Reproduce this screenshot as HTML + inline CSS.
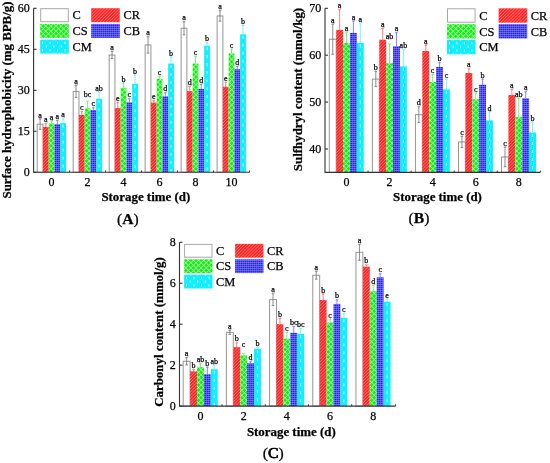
<!DOCTYPE html>
<html><head><meta charset="utf-8"><style>
html,body{margin:0;padding:0;background:#fff;width:550px;height:463px;overflow:hidden}
svg{display:block;will-change:transform}
text{font-family:"Liberation Serif", serif;fill:#000;stroke:#000;stroke-width:0.25px}
</style></head><body>
<svg width="550" height="463" viewBox="0 0 550 463">
<defs>
<pattern id="pR" patternUnits="userSpaceOnUse" width="2.2" height="2.2" patternTransform="rotate(45)"><rect width="2.2" height="2.2" fill="#ff2424"/><rect width="0.55" height="2.2" fill="#ff8c8c"/></pattern>
<pattern id="pS" patternUnits="userSpaceOnUse" width="3.6" height="3.6" patternTransform="rotate(45)"><rect width="3.6" height="3.6" fill="#14ec14"/><rect width="0.7" height="3.6" fill="#b8ffb8"/><rect width="3.6" height="0.7" fill="#b8ffb8"/></pattern>
<pattern id="pB" patternUnits="userSpaceOnUse" width="2" height="2"><rect width="2" height="2" fill="#1e1eff"/><rect width="0.4" height="2" fill="#9090ff"/><rect width="2" height="0.5" fill="#9a9aff"/></pattern>
</defs>
<line x1="33.6" y1="172.3" x2="36.6" y2="172.3" stroke="#333" stroke-width="1.1"/><text x="29.8" y="176.4" font-size="12.0" text-anchor="end">0</text><line x1="33.6" y1="131.3" x2="36.6" y2="131.3" stroke="#333" stroke-width="1.1"/><text x="29.8" y="135.4" font-size="12.0" text-anchor="end">15</text><line x1="33.6" y1="90.3" x2="36.6" y2="90.3" stroke="#333" stroke-width="1.1"/><text x="29.8" y="94.4" font-size="12.0" text-anchor="end">30</text><line x1="33.6" y1="49.3" x2="36.6" y2="49.3" stroke="#333" stroke-width="1.1"/><text x="29.8" y="53.4" font-size="12.0" text-anchor="end">45</text><line x1="33.6" y1="8.3" x2="36.6" y2="8.3" stroke="#333" stroke-width="1.1"/><text x="29.8" y="12.4" font-size="12.0" text-anchor="end">60</text><line x1="51.59" y1="172.3" x2="51.59" y2="169.3" stroke="#333" stroke-width="1"/><line x1="69.58" y1="172.3" x2="69.58" y2="170.5" stroke="#333" stroke-width="1"/><line x1="87.58" y1="172.3" x2="87.58" y2="169.3" stroke="#333" stroke-width="1"/><line x1="105.57" y1="172.3" x2="105.57" y2="170.5" stroke="#333" stroke-width="1"/><line x1="123.56" y1="172.3" x2="123.56" y2="169.3" stroke="#333" stroke-width="1"/><line x1="141.55" y1="172.3" x2="141.55" y2="170.5" stroke="#333" stroke-width="1"/><line x1="159.54" y1="172.3" x2="159.54" y2="169.3" stroke="#333" stroke-width="1"/><line x1="177.53" y1="172.3" x2="177.53" y2="170.5" stroke="#333" stroke-width="1"/><line x1="195.53" y1="172.3" x2="195.53" y2="169.3" stroke="#333" stroke-width="1"/><line x1="213.52" y1="172.3" x2="213.52" y2="170.5" stroke="#333" stroke-width="1"/><line x1="231.51" y1="172.3" x2="231.51" y2="169.3" stroke="#333" stroke-width="1"/><line x1="249.5" y1="172.3" x2="249.5" y2="170.5" stroke="#333" stroke-width="1"/><rect x="37.2" y="124.19" width="5.76" height="48.11" fill="#fff" stroke="#959595" stroke-width="1"/><path d="M40.08 119V129.39M38.78 119H41.38M38.78 129.39H41.38" stroke="#707070" stroke-width="0.8" fill="none"/><text x="40.08" y="117.6" font-size="8.0" text-anchor="middle">a</text><rect x="42.96" y="126.93" width="5.76" height="45.37" fill="url(#pR)"/><path d="M45.83 123.65V126.93M44.53 123.65H47.13" stroke="#ff6060" stroke-width="0.8" fill="none"/><text x="45.83" y="122.25" font-size="8.0" text-anchor="middle">a</text><rect x="48.71" y="123.37" width="5.76" height="48.93" fill="url(#pS)"/><path d="M51.59 120.91V123.37M50.29 120.91H52.89" stroke="#55ee55" stroke-width="0.8" fill="none"/><text x="51.59" y="119.51" font-size="8.0" text-anchor="middle">a</text><rect x="54.47" y="124.19" width="5.76" height="48.11" fill="url(#pB)"/><path d="M57.35 120.64V124.19M56.05 120.64H58.65" stroke="#6666ff" stroke-width="0.8" fill="none"/><text x="57.35" y="119.24" font-size="8.0" text-anchor="middle">a</text><rect x="60.23" y="123.1" width="5.76" height="49.2" fill="#11eeff"/><line x1="63.11" y1="124.6" x2="63.11" y2="172.3" stroke="#f0ffff" stroke-width="0.85" stroke-dasharray="3 5"/><path d="M63.11 118.73V123.1M61.81 118.73H64.41" stroke="#55eeff" stroke-width="0.8" fill="none"/><text x="63.11" y="117.33" font-size="8.0" text-anchor="middle">a</text><rect x="73.18" y="91.39" width="5.76" height="80.91" fill="#fff" stroke="#959595" stroke-width="1"/><path d="M76.06 85.38V97.41M74.76 85.38H77.36M74.76 97.41H77.36" stroke="#707070" stroke-width="0.8" fill="none"/><text x="76.06" y="83.98" font-size="8.0" text-anchor="middle">a</text><rect x="78.94" y="114.9" width="5.76" height="57.4" fill="url(#pR)"/><path d="M81.82 111.62V114.9M80.52 111.62H83.12" stroke="#ff6060" stroke-width="0.8" fill="none"/><text x="81.82" y="110.22" font-size="8.0" text-anchor="middle">c</text><rect x="84.7" y="108.34" width="5.76" height="63.96" fill="url(#pS)"/><path d="M87.58 101.23V108.34M86.28 101.23H88.88" stroke="#55ee55" stroke-width="0.8" fill="none"/><text x="87.58" y="96.83" font-size="8.0" text-anchor="middle">bc</text><rect x="90.45" y="109.98" width="5.76" height="62.32" fill="url(#pB)"/><path d="M93.33 107.79V109.98M92.03 107.79H94.63" stroke="#6666ff" stroke-width="0.8" fill="none"/><text x="93.33" y="106.39" font-size="8.0" text-anchor="middle">c</text><rect x="96.21" y="98.77" width="5.76" height="73.53" fill="#11eeff"/><line x1="99.09" y1="100.27" x2="99.09" y2="172.3" stroke="#f0ffff" stroke-width="0.85" stroke-dasharray="3 5"/><path d="M99.09 92.49V98.77M97.79 92.49H100.39" stroke="#55eeff" stroke-width="0.8" fill="none"/><text x="99.09" y="91.09" font-size="8.0" text-anchor="middle">ab</text><rect x="109.17" y="55.04" width="5.76" height="117.26" fill="#fff" stroke="#959595" stroke-width="1"/><path d="M112.04 51.49V58.59M110.74 51.49H113.34M110.74 58.59H113.34" stroke="#707070" stroke-width="0.8" fill="none"/><text x="112.04" y="50.09" font-size="8.0" text-anchor="middle">a</text><rect x="114.92" y="108.07" width="5.76" height="64.23" fill="url(#pR)"/><path d="M117.8 102.6V108.07M116.5 102.6H119.1" stroke="#ff6060" stroke-width="0.8" fill="none"/><text x="117.8" y="101.2" font-size="8.0" text-anchor="middle">e</text><rect x="120.68" y="87.84" width="5.76" height="84.46" fill="url(#pS)"/><path d="M123.56 82.92V87.84M122.26 82.92H124.86" stroke="#55ee55" stroke-width="0.8" fill="none"/><text x="123.56" y="81.52" font-size="8.0" text-anchor="middle">b</text><rect x="126.44" y="102.33" width="5.76" height="69.97" fill="url(#pB)"/><path d="M129.32 98.77V102.33M128.02 98.77H130.62" stroke="#6666ff" stroke-width="0.8" fill="none"/><text x="129.32" y="97.37" font-size="8.0" text-anchor="middle">c</text><rect x="132.19" y="83.74" width="5.76" height="88.56" fill="#11eeff"/><line x1="135.07" y1="85.24" x2="135.07" y2="172.3" stroke="#f0ffff" stroke-width="0.85" stroke-dasharray="3 5"/><path d="M135.07 75.27V83.74M133.77 75.27H136.37" stroke="#55eeff" stroke-width="0.8" fill="none"/><text x="135.07" y="73.87" font-size="8.0" text-anchor="middle">b</text><rect x="145.15" y="44.93" width="5.76" height="127.37" fill="#fff" stroke="#959595" stroke-width="1"/><path d="M148.03 36.73V53.13M146.73 36.73H149.33M146.73 53.13H149.33" stroke="#707070" stroke-width="0.8" fill="none"/><text x="148.03" y="35.33" font-size="8.0" text-anchor="middle">a</text><rect x="150.91" y="102.6" width="5.76" height="69.7" fill="url(#pR)"/><path d="M153.78 100.55V102.6M152.48 100.55H155.08" stroke="#ff6060" stroke-width="0.8" fill="none"/><text x="153.78" y="99.15" font-size="8.0" text-anchor="middle">e</text><rect x="156.66" y="78.82" width="5.76" height="93.48" fill="url(#pS)"/><path d="M159.54 76.09V78.82M158.24 76.09H160.84" stroke="#55ee55" stroke-width="0.8" fill="none"/><text x="159.54" y="74.69" font-size="8.0" text-anchor="middle">c</text><rect x="162.42" y="96.31" width="5.76" height="75.99" fill="url(#pB)"/><path d="M165.3 92.76V96.31M164 92.76H166.6" stroke="#6666ff" stroke-width="0.8" fill="none"/><text x="165.3" y="91.36" font-size="8.0" text-anchor="middle">d</text><rect x="168.18" y="63.51" width="5.76" height="108.79" fill="#11eeff"/><line x1="171.06" y1="65.01" x2="171.06" y2="172.3" stroke="#f0ffff" stroke-width="0.85" stroke-dasharray="3 5"/><path d="M171.06 57.23V63.51M169.76 57.23H172.36" stroke="#55eeff" stroke-width="0.8" fill="none"/><text x="171.06" y="55.83" font-size="8.0" text-anchor="middle">b</text><rect x="181.13" y="28.25" width="5.76" height="144.05" fill="#fff" stroke="#959595" stroke-width="1"/><path d="M184.01 21.69V34.81M182.71 21.69H185.31M182.71 34.81H185.31" stroke="#707070" stroke-width="0.8" fill="none"/><text x="184.01" y="20.29" font-size="8.0" text-anchor="middle">a</text><rect x="186.89" y="91.12" width="5.76" height="81.18" fill="url(#pR)"/><path d="M189.77 86.47V91.12M188.47 86.47H191.07" stroke="#ff6060" stroke-width="0.8" fill="none"/><text x="189.77" y="85.07" font-size="8.0" text-anchor="middle">d</text><rect x="192.65" y="63.51" width="5.76" height="108.79" fill="url(#pS)"/><path d="M195.53 56.68V63.51M194.22 56.68H196.83" stroke="#55ee55" stroke-width="0.8" fill="none"/><text x="195.53" y="55.28" font-size="8.0" text-anchor="middle">c</text><rect x="198.4" y="88.93" width="5.76" height="83.37" fill="url(#pB)"/><path d="M201.28 84.56V88.93M199.98 84.56H202.58" stroke="#6666ff" stroke-width="0.8" fill="none"/><text x="201.28" y="83.16" font-size="8.0" text-anchor="middle">d</text><rect x="204.16" y="45.75" width="5.76" height="126.55" fill="#11eeff"/><line x1="207.04" y1="47.25" x2="207.04" y2="172.3" stroke="#f0ffff" stroke-width="0.85" stroke-dasharray="3 5"/><path d="M207.04 42.74V45.75M205.74 42.74H208.34" stroke="#55eeff" stroke-width="0.8" fill="none"/><text x="207.04" y="41.34" font-size="8.0" text-anchor="middle">b</text><rect x="217.12" y="15.95" width="5.76" height="156.35" fill="#fff" stroke="#959595" stroke-width="1"/><path d="M219.99 10.76V21.15M218.69 10.76H221.29M218.69 21.15H221.29" stroke="#707070" stroke-width="0.8" fill="none"/><text x="219.99" y="9.36" font-size="8.0" text-anchor="middle">a</text><rect x="222.87" y="86.75" width="5.76" height="85.55" fill="url(#pR)"/><path d="M225.75 82.37V86.75M224.45 82.37H227.05" stroke="#ff6060" stroke-width="0.8" fill="none"/><text x="225.75" y="80.97" font-size="8.0" text-anchor="middle">e</text><rect x="228.63" y="53.4" width="5.76" height="118.9" fill="url(#pS)"/><path d="M231.51 49.3V53.4M230.21 49.3H232.81" stroke="#55ee55" stroke-width="0.8" fill="none"/><text x="231.51" y="47.9" font-size="8.0" text-anchor="middle">c</text><rect x="234.39" y="69.25" width="5.76" height="103.05" fill="url(#pB)"/><path d="M237.27 66.52V69.25M235.97 66.52H238.57" stroke="#6666ff" stroke-width="0.8" fill="none"/><text x="237.27" y="65.12" font-size="8.0" text-anchor="middle">d</text><rect x="240.14" y="34.27" width="5.76" height="138.03" fill="#11eeff"/><line x1="243.02" y1="35.77" x2="243.02" y2="172.3" stroke="#f0ffff" stroke-width="0.85" stroke-dasharray="3 5"/><path d="M243.02 25.52V34.27M241.72 25.52H244.32" stroke="#55eeff" stroke-width="0.8" fill="none"/><text x="243.02" y="24.12" font-size="8.0" text-anchor="middle">b</text><path d="M33.6 8.3V172.3H249.5" stroke="#333" stroke-width="1.1" fill="none"/><text x="51.59" y="185.8" font-size="12.0" text-anchor="middle">0</text><text x="87.58" y="185.8" font-size="12.0" text-anchor="middle">2</text><text x="123.56" y="185.8" font-size="12.0" text-anchor="middle">4</text><text x="159.54" y="185.8" font-size="12.0" text-anchor="middle">6</text><text x="195.53" y="185.8" font-size="12.0" text-anchor="middle">8</text><text x="231.51" y="185.8" font-size="12.0" text-anchor="middle">10</text><rect x="40.7" y="8.7" width="27.6" height="13" fill="#fff" stroke="#a8a8a8" stroke-width="1"/><text x="72.4" y="19.4" font-size="12.4">C</text><rect x="91.2" y="8.2" width="28.6" height="14" fill="url(#pR)"/><text x="123.4" y="19.4" font-size="12.4">CR</text><rect x="40.2" y="23.9" width="28.6" height="14" fill="url(#pS)"/><text x="72.4" y="35.1" font-size="12.4">CS</text><rect x="91.2" y="23.9" width="28.6" height="14" fill="url(#pB)"/><text x="123.4" y="35.1" font-size="12.4">CB</text><rect x="40.2" y="39.6" width="28.6" height="14" fill="#11eeff"/><line x1="42.6" y1="39.6" x2="42.6" y2="53.6" stroke="#e8ffff" stroke-width="0.9" stroke-dasharray="2.5 4.9" stroke-dashoffset="-2"/><line x1="46.35" y1="39.6" x2="46.35" y2="53.6" stroke="#e8ffff" stroke-width="0.9" stroke-dasharray="2.5 4.9" stroke-dashoffset="1.7"/><line x1="50.1" y1="39.6" x2="50.1" y2="53.6" stroke="#e8ffff" stroke-width="0.9" stroke-dasharray="2.5 4.9" stroke-dashoffset="-2"/><line x1="53.85" y1="39.6" x2="53.85" y2="53.6" stroke="#e8ffff" stroke-width="0.9" stroke-dasharray="2.5 4.9" stroke-dashoffset="1.7"/><line x1="57.6" y1="39.6" x2="57.6" y2="53.6" stroke="#e8ffff" stroke-width="0.9" stroke-dasharray="2.5 4.9" stroke-dashoffset="-2"/><line x1="61.35" y1="39.6" x2="61.35" y2="53.6" stroke="#e8ffff" stroke-width="0.9" stroke-dasharray="2.5 4.9" stroke-dashoffset="1.7"/><line x1="65.1" y1="39.6" x2="65.1" y2="53.6" stroke="#e8ffff" stroke-width="0.9" stroke-dasharray="2.5 4.9" stroke-dashoffset="-2"/><text x="72.4" y="50.8" font-size="12.4">CM</text><text transform="translate(11,100) rotate(-90)" font-size="12.9" font-weight="bold" text-anchor="middle">Surface hydrophobicity (mg BPB/g)</text><text x="145.8" y="201.3" font-size="12.9" font-weight="bold" text-anchor="middle">Storage time (d)</text><text x="117" y="223.6" font-size="15.6">(<tspan font-weight="bold">A</tspan>)</text><line x1="325" y1="148.96" x2="328" y2="148.96" stroke="#333" stroke-width="1.1"/><text x="321.2" y="153.06" font-size="12.0" text-anchor="end">40</text><line x1="325" y1="102.07" x2="328" y2="102.07" stroke="#333" stroke-width="1.1"/><text x="321.2" y="106.17" font-size="12.0" text-anchor="end">50</text><line x1="325" y1="55.19" x2="328" y2="55.19" stroke="#333" stroke-width="1.1"/><text x="321.2" y="59.29" font-size="12.0" text-anchor="end">60</text><line x1="325" y1="8.3" x2="328" y2="8.3" stroke="#333" stroke-width="1.1"/><text x="321.2" y="12.4" font-size="12.0" text-anchor="end">70</text><line x1="346.53" y1="172.4" x2="346.53" y2="169.4" stroke="#333" stroke-width="1"/><line x1="368.06" y1="172.4" x2="368.06" y2="170.6" stroke="#333" stroke-width="1"/><line x1="389.59" y1="172.4" x2="389.59" y2="169.4" stroke="#333" stroke-width="1"/><line x1="411.12" y1="172.4" x2="411.12" y2="170.6" stroke="#333" stroke-width="1"/><line x1="432.65" y1="172.4" x2="432.65" y2="169.4" stroke="#333" stroke-width="1"/><line x1="454.18" y1="172.4" x2="454.18" y2="170.6" stroke="#333" stroke-width="1"/><line x1="475.71" y1="172.4" x2="475.71" y2="169.4" stroke="#333" stroke-width="1"/><line x1="497.24" y1="172.4" x2="497.24" y2="170.6" stroke="#333" stroke-width="1"/><line x1="518.77" y1="172.4" x2="518.77" y2="169.4" stroke="#333" stroke-width="1"/><line x1="540.3" y1="172.4" x2="540.3" y2="170.6" stroke="#333" stroke-width="1"/><rect x="329.31" y="39.24" width="6.89" height="133.16" fill="#fff" stroke="#959595" stroke-width="1"/><path d="M332.75 24.24V54.25M331.45 24.24H334.05M331.45 54.25H334.05" stroke="#707070" stroke-width="0.8" fill="none"/><text x="332.75" y="22.84" font-size="8.0" text-anchor="middle">a</text><rect x="336.2" y="29.87" width="6.89" height="142.53" fill="url(#pR)"/><path d="M339.64 9.71V29.87M338.34 9.71H340.94" stroke="#ff6060" stroke-width="0.8" fill="none"/><text x="339.64" y="8.31" font-size="8.0" text-anchor="middle">a</text><rect x="343.09" y="43" width="6.89" height="129.4" fill="url(#pS)"/><path d="M346.53 32.21V43M345.23 32.21H347.83" stroke="#55ee55" stroke-width="0.8" fill="none"/><text x="346.53" y="30.81" font-size="8.0" text-anchor="middle">a</text><rect x="349.97" y="32.91" width="6.89" height="139.49" fill="url(#pB)"/><path d="M353.42 20.96V32.91M352.12 20.96H354.72" stroke="#6666ff" stroke-width="0.8" fill="none"/><text x="353.42" y="19.56" font-size="8.0" text-anchor="middle">a</text><rect x="356.86" y="43" width="6.89" height="129.4" fill="#11eeff"/><line x1="360.31" y1="44.5" x2="360.31" y2="172.4" stroke="#f0ffff" stroke-width="0.85" stroke-dasharray="3 5"/><path d="M360.31 23.77V43M359.01 23.77H361.61" stroke="#55eeff" stroke-width="0.8" fill="none"/><text x="360.31" y="22.37" font-size="8.0" text-anchor="middle">a</text><rect x="372.37" y="79.1" width="6.89" height="93.3" fill="#fff" stroke="#959595" stroke-width="1"/><path d="M375.81 71.6V86.6M374.51 71.6H377.11M374.51 86.6H377.11" stroke="#707070" stroke-width="0.8" fill="none"/><text x="375.81" y="70.2" font-size="8.0" text-anchor="middle">b</text><rect x="379.26" y="39.71" width="6.89" height="132.69" fill="url(#pR)"/><path d="M382.7 28.46V39.71M381.4 28.46H384" stroke="#ff6060" stroke-width="0.8" fill="none"/><text x="382.7" y="27.06" font-size="8.0" text-anchor="middle">a</text><rect x="386.15" y="63.16" width="6.89" height="109.24" fill="url(#pS)"/><path d="M389.59 43.93V63.16M388.29 43.93H390.89" stroke="#55ee55" stroke-width="0.8" fill="none"/><text x="389.59" y="39.44" font-size="8.0" text-anchor="middle">ab</text><rect x="393.03" y="46.28" width="6.89" height="126.12" fill="url(#pB)"/><path d="M396.48 32.68V46.28M395.18 32.68H397.78" stroke="#6666ff" stroke-width="0.8" fill="none"/><text x="396.48" y="31.28" font-size="8.0" text-anchor="middle">a</text><rect x="399.92" y="66.44" width="6.89" height="105.96" fill="#11eeff"/><line x1="403.37" y1="67.94" x2="403.37" y2="172.4" stroke="#f0ffff" stroke-width="0.85" stroke-dasharray="3 5"/><path d="M403.37 49.56V66.44M402.07 49.56H404.67" stroke="#55eeff" stroke-width="0.8" fill="none"/><text x="403.37" y="48.16" font-size="8.0" text-anchor="middle">ab</text><rect x="415.43" y="114.73" width="6.89" height="57.67" fill="#fff" stroke="#959595" stroke-width="1"/><path d="M418.87 106.76V122.7M417.57 106.76H420.17M417.57 122.7H420.17" stroke="#707070" stroke-width="0.8" fill="none"/><text x="418.87" y="105.36" font-size="8.0" text-anchor="middle">d</text><rect x="422.32" y="50.97" width="6.89" height="121.43" fill="url(#pR)"/><path d="M425.76 45.34V50.97M424.46 45.34H427.06" stroke="#ff6060" stroke-width="0.8" fill="none"/><text x="425.76" y="43.94" font-size="8.0" text-anchor="middle">a</text><rect x="429.21" y="81.91" width="6.89" height="90.49" fill="url(#pS)"/><path d="M432.65 74.41V81.91M431.35 74.41H433.95" stroke="#55ee55" stroke-width="0.8" fill="none"/><text x="432.65" y="73.01" font-size="8.0" text-anchor="middle">c</text><rect x="436.09" y="66.91" width="6.89" height="105.49" fill="url(#pB)"/><path d="M439.54 62.69V66.91M438.24 62.69H440.84" stroke="#6666ff" stroke-width="0.8" fill="none"/><text x="439.54" y="61.29" font-size="8.0" text-anchor="middle">b</text><rect x="442.98" y="89.41" width="6.89" height="82.99" fill="#11eeff"/><line x1="446.43" y1="90.91" x2="446.43" y2="172.4" stroke="#f0ffff" stroke-width="0.85" stroke-dasharray="3 5"/><path d="M446.43 79.57V89.41M445.13 79.57H447.73" stroke="#55eeff" stroke-width="0.8" fill="none"/><text x="446.43" y="78.17" font-size="8.0" text-anchor="middle">c</text><rect x="458.49" y="141.92" width="6.89" height="30.48" fill="#fff" stroke="#959595" stroke-width="1"/><path d="M461.93 136.3V147.55M460.63 136.3H463.23M460.63 147.55H463.23" stroke="#707070" stroke-width="0.8" fill="none"/><text x="461.93" y="134.9" font-size="8.0" text-anchor="middle">c</text><rect x="465.38" y="73" width="6.89" height="99.4" fill="url(#pR)"/><path d="M468.82 68.78V73M467.52 68.78H470.12" stroke="#ff6060" stroke-width="0.8" fill="none"/><text x="468.82" y="67.38" font-size="8.0" text-anchor="middle">a</text><rect x="472.27" y="99.26" width="6.89" height="73.14" fill="url(#pS)"/><path d="M475.71 93.16V99.26M474.41 93.16H477.01" stroke="#55ee55" stroke-width="0.8" fill="none"/><text x="475.71" y="91.76" font-size="8.0" text-anchor="middle">c</text><rect x="479.15" y="84.72" width="6.89" height="87.68" fill="url(#pB)"/><path d="M482.6 79.1V84.72M481.3 79.1H483.9" stroke="#6666ff" stroke-width="0.8" fill="none"/><text x="482.6" y="77.7" font-size="8.0" text-anchor="middle">b</text><rect x="486.04" y="120.36" width="6.89" height="52.04" fill="#11eeff"/><line x1="489.49" y1="121.86" x2="489.49" y2="172.4" stroke="#f0ffff" stroke-width="0.85" stroke-dasharray="3 5"/><path d="M489.49 111.92V120.36M488.19 111.92H490.79" stroke="#55eeff" stroke-width="0.8" fill="none"/><text x="489.49" y="110.52" font-size="8.0" text-anchor="middle">d</text><rect x="501.55" y="156.93" width="6.89" height="15.47" fill="#fff" stroke="#959595" stroke-width="1"/><path d="M504.99 147.08V166.77M503.69 147.08H506.29M503.69 166.77H506.29" stroke="#707070" stroke-width="0.8" fill="none"/><text x="504.99" y="145.68" font-size="8.0" text-anchor="middle">c</text><rect x="508.44" y="95.04" width="6.89" height="77.36" fill="url(#pR)"/><path d="M511.88 89.41V95.04M510.58 89.41H513.18" stroke="#ff6060" stroke-width="0.8" fill="none"/><text x="511.88" y="88.01" font-size="8.0" text-anchor="middle">a</text><rect x="515.33" y="117.07" width="6.89" height="55.33" fill="url(#pS)"/><path d="M518.77 98.32V117.07M517.47 98.32H520.07" stroke="#55ee55" stroke-width="0.8" fill="none"/><text x="518.77" y="96.92" font-size="8.0" text-anchor="middle">ab</text><rect x="522.21" y="98.32" width="6.89" height="74.08" fill="url(#pB)"/><path d="M525.66 91.76V98.32M524.36 91.76H526.96" stroke="#6666ff" stroke-width="0.8" fill="none"/><text x="525.66" y="90.36" font-size="8.0" text-anchor="middle">a</text><rect x="529.1" y="132.55" width="6.89" height="39.85" fill="#11eeff"/><line x1="532.55" y1="134.05" x2="532.55" y2="172.4" stroke="#f0ffff" stroke-width="0.85" stroke-dasharray="3 5"/><path d="M532.55 122.23V132.55M531.25 122.23H533.85" stroke="#55eeff" stroke-width="0.8" fill="none"/><text x="532.55" y="120.83" font-size="8.0" text-anchor="middle">b</text><path d="M325 8.3V172.4H540.3" stroke="#333" stroke-width="1.1" fill="none"/><text x="346.53" y="185.9" font-size="12.0" text-anchor="middle">0</text><text x="389.59" y="185.9" font-size="12.0" text-anchor="middle">2</text><text x="432.65" y="185.9" font-size="12.0" text-anchor="middle">4</text><text x="475.71" y="185.9" font-size="12.0" text-anchor="middle">6</text><text x="518.77" y="185.9" font-size="12.0" text-anchor="middle">8</text><rect x="447.5" y="8.8" width="27.6" height="13.4" fill="#fff" stroke="#a8a8a8" stroke-width="1"/><text x="479.2" y="19.7" font-size="12.4">C</text><rect x="498.6" y="8.3" width="28.6" height="14.4" fill="url(#pR)"/><text x="530.8" y="19.7" font-size="12.4">CR</text><rect x="447" y="24.1" width="28.6" height="14.4" fill="url(#pS)"/><text x="479.2" y="35.5" font-size="12.4">CS</text><rect x="498.6" y="24.1" width="28.6" height="14.4" fill="url(#pB)"/><text x="530.8" y="35.5" font-size="12.4">CB</text><rect x="447" y="39.9" width="28.6" height="14.4" fill="#11eeff"/><line x1="449.4" y1="39.9" x2="449.4" y2="54.3" stroke="#e8ffff" stroke-width="0.9" stroke-dasharray="2.5 4.9" stroke-dashoffset="-2"/><line x1="453.15" y1="39.9" x2="453.15" y2="54.3" stroke="#e8ffff" stroke-width="0.9" stroke-dasharray="2.5 4.9" stroke-dashoffset="1.7"/><line x1="456.9" y1="39.9" x2="456.9" y2="54.3" stroke="#e8ffff" stroke-width="0.9" stroke-dasharray="2.5 4.9" stroke-dashoffset="-2"/><line x1="460.65" y1="39.9" x2="460.65" y2="54.3" stroke="#e8ffff" stroke-width="0.9" stroke-dasharray="2.5 4.9" stroke-dashoffset="1.7"/><line x1="464.4" y1="39.9" x2="464.4" y2="54.3" stroke="#e8ffff" stroke-width="0.9" stroke-dasharray="2.5 4.9" stroke-dashoffset="-2"/><line x1="468.15" y1="39.9" x2="468.15" y2="54.3" stroke="#e8ffff" stroke-width="0.9" stroke-dasharray="2.5 4.9" stroke-dashoffset="1.7"/><line x1="471.9" y1="39.9" x2="471.9" y2="54.3" stroke="#e8ffff" stroke-width="0.9" stroke-dasharray="2.5 4.9" stroke-dashoffset="-2"/><text x="479.2" y="51.3" font-size="12.4">CM</text><text transform="translate(302.2,89.5) rotate(-90)" font-size="12.9" font-weight="bold" text-anchor="middle">Sulfhydryl content (mmol/kg)</text><text x="437.5" y="201.3" font-size="12.9" font-weight="bold" text-anchor="middle">Storage time (d)</text><text x="408.6" y="223.3" font-size="15.6">(<tspan font-weight="bold">B</tspan>)</text><line x1="179.5" y1="406.1" x2="182.5" y2="406.1" stroke="#333" stroke-width="1.1"/><text x="175.7" y="410.2" font-size="12.0" text-anchor="end">0</text><line x1="179.5" y1="365.15" x2="182.5" y2="365.15" stroke="#333" stroke-width="1.1"/><text x="175.7" y="369.25" font-size="12.0" text-anchor="end">2</text><line x1="179.5" y1="324.2" x2="182.5" y2="324.2" stroke="#333" stroke-width="1.1"/><text x="175.7" y="328.3" font-size="12.0" text-anchor="end">4</text><line x1="179.5" y1="283.25" x2="182.5" y2="283.25" stroke="#333" stroke-width="1.1"/><text x="175.7" y="287.35" font-size="12.0" text-anchor="end">6</text><line x1="179.5" y1="242.3" x2="182.5" y2="242.3" stroke="#333" stroke-width="1.1"/><text x="175.7" y="246.4" font-size="12.0" text-anchor="end">8</text><line x1="200.45" y1="406.1" x2="200.45" y2="403.1" stroke="#333" stroke-width="1"/><line x1="222.05" y1="406.1" x2="222.05" y2="404.3" stroke="#333" stroke-width="1"/><line x1="243.65" y1="406.1" x2="243.65" y2="403.1" stroke="#333" stroke-width="1"/><line x1="265.25" y1="406.1" x2="265.25" y2="404.3" stroke="#333" stroke-width="1"/><line x1="286.85" y1="406.1" x2="286.85" y2="403.1" stroke="#333" stroke-width="1"/><line x1="308.45" y1="406.1" x2="308.45" y2="404.3" stroke="#333" stroke-width="1"/><line x1="330.05" y1="406.1" x2="330.05" y2="403.1" stroke="#333" stroke-width="1"/><line x1="351.65" y1="406.1" x2="351.65" y2="404.3" stroke="#333" stroke-width="1"/><line x1="373.25" y1="406.1" x2="373.25" y2="403.1" stroke="#333" stroke-width="1"/><line x1="395.6" y1="406.1" x2="395.6" y2="404.3" stroke="#333" stroke-width="1"/><rect x="183.17" y="361.26" width="6.91" height="44.84" fill="#fff" stroke="#959595" stroke-width="1"/><path d="M186.63 357.57V364.95M185.33 357.57H187.93M185.33 364.95H187.93" stroke="#707070" stroke-width="0.8" fill="none"/><text x="186.63" y="356.17" font-size="8.0" text-anchor="middle">a</text><rect x="190.08" y="371.29" width="6.91" height="34.81" fill="url(#pR)"/><path d="M193.54 369.65V371.29M192.24 369.65H194.84" stroke="#ff6060" stroke-width="0.8" fill="none"/><text x="193.54" y="368.25" font-size="8.0" text-anchor="middle">b</text><rect x="196.99" y="367.2" width="6.91" height="38.9" fill="url(#pS)"/><path d="M200.45 363.72V367.2M199.15 363.72H201.75" stroke="#55ee55" stroke-width="0.8" fill="none"/><text x="200.45" y="362.32" font-size="8.0" text-anchor="middle">ab</text><rect x="203.91" y="374.16" width="6.91" height="31.94" fill="url(#pB)"/><path d="M207.36 367.2V374.16M206.06 367.2H208.66" stroke="#6666ff" stroke-width="0.8" fill="none"/><text x="207.36" y="365.8" font-size="8.0" text-anchor="middle">b</text><rect x="210.82" y="369.25" width="6.91" height="36.86" fill="#11eeff"/><line x1="214.27" y1="370.75" x2="214.27" y2="406.1" stroke="#f0ffff" stroke-width="0.85" stroke-dasharray="3 5"/><path d="M214.27 365.15V369.25M212.97 365.15H215.57" stroke="#55eeff" stroke-width="0.8" fill="none"/><text x="214.27" y="363.75" font-size="8.0" text-anchor="middle">ab</text><rect x="226.37" y="332.39" width="6.91" height="73.71" fill="#fff" stroke="#959595" stroke-width="1"/><path d="M229.83 330.34V334.44M228.53 330.34H231.13M228.53 334.44H231.13" stroke="#707070" stroke-width="0.8" fill="none"/><text x="229.83" y="328.94" font-size="8.0" text-anchor="middle">a</text><rect x="233.28" y="347.13" width="6.91" height="58.97" fill="url(#pR)"/><path d="M236.74 342.83V347.13M235.44 342.83H238.04" stroke="#ff6060" stroke-width="0.8" fill="none"/><text x="236.74" y="341.43" font-size="8.0" text-anchor="middle">b</text><rect x="240.19" y="355.32" width="6.91" height="50.78" fill="url(#pS)"/><path d="M243.65 353.27V355.32M242.35 353.27H244.95" stroke="#55ee55" stroke-width="0.8" fill="none"/><text x="243.65" y="347.37" font-size="8.0" text-anchor="middle">c</text><rect x="247.11" y="363.31" width="6.91" height="42.79" fill="url(#pB)"/><path d="M250.56 361.67V363.31M249.26 361.67H251.86" stroke="#6666ff" stroke-width="0.8" fill="none"/><text x="250.56" y="360.27" font-size="8.0" text-anchor="middle">d</text><rect x="254.02" y="348.77" width="6.91" height="57.33" fill="#11eeff"/><line x1="257.47" y1="350.27" x2="257.47" y2="406.1" stroke="#f0ffff" stroke-width="0.85" stroke-dasharray="3 5"/><path d="M257.47 347.75V348.77M256.17 347.75H258.77" stroke="#55eeff" stroke-width="0.8" fill="none"/><text x="257.47" y="346.35" font-size="8.0" text-anchor="middle">b</text><rect x="269.57" y="299.63" width="6.91" height="106.47" fill="#fff" stroke="#959595" stroke-width="1"/><path d="M273.03 293.69V305.57M271.73 293.69H274.33M271.73 305.57H274.33" stroke="#707070" stroke-width="0.8" fill="none"/><text x="273.03" y="292.29" font-size="8.0" text-anchor="middle">a</text><rect x="276.48" y="324.2" width="6.91" height="81.9" fill="url(#pR)"/><path d="M279.94 318.47V324.2M278.64 318.47H281.24" stroke="#ff6060" stroke-width="0.8" fill="none"/><text x="279.94" y="317.07" font-size="8.0" text-anchor="middle">b</text><rect x="283.39" y="338.74" width="6.91" height="67.36" fill="url(#pS)"/><path d="M286.85 332.39V338.74M285.55 332.39H288.15" stroke="#55ee55" stroke-width="0.8" fill="none"/><text x="286.85" y="330.99" font-size="8.0" text-anchor="middle">c</text><rect x="290.31" y="332.8" width="6.91" height="73.3" fill="url(#pB)"/><path d="M293.76 326.45V332.8M292.46 326.45H295.06" stroke="#6666ff" stroke-width="0.8" fill="none"/><text x="293.76" y="325.05" font-size="8.0" text-anchor="middle">bc</text><rect x="297.22" y="333.82" width="6.91" height="72.28" fill="#11eeff"/><line x1="300.67" y1="335.32" x2="300.67" y2="406.1" stroke="#f0ffff" stroke-width="0.85" stroke-dasharray="3 5"/><path d="M300.67 328.5V333.82M299.37 328.5H301.97" stroke="#55eeff" stroke-width="0.8" fill="none"/><text x="300.67" y="327.1" font-size="8.0" text-anchor="middle">bc</text><rect x="312.77" y="275.26" width="6.91" height="130.84" fill="#fff" stroke="#959595" stroke-width="1"/><path d="M316.23 271.37V279.16M314.93 271.37H317.53M314.93 279.16H317.53" stroke="#707070" stroke-width="0.8" fill="none"/><text x="316.23" y="269.97" font-size="8.0" text-anchor="middle">a</text><rect x="319.68" y="300.04" width="6.91" height="106.06" fill="url(#pR)"/><path d="M323.14 293.9V300.04M321.84 293.9H324.44" stroke="#ff6060" stroke-width="0.8" fill="none"/><text x="323.14" y="292.5" font-size="8.0" text-anchor="middle">b</text><rect x="326.59" y="322.36" width="6.91" height="83.74" fill="url(#pS)"/><path d="M330.05 319.29V322.36M328.75 319.29H331.35" stroke="#55ee55" stroke-width="0.8" fill="none"/><text x="330.05" y="317.89" font-size="8.0" text-anchor="middle">c</text><rect x="333.51" y="303.93" width="6.91" height="102.17" fill="url(#pB)"/><path d="M336.96 299.83V303.93M335.66 299.83H338.26" stroke="#6666ff" stroke-width="0.8" fill="none"/><text x="336.96" y="298.43" font-size="8.0" text-anchor="middle">b</text><rect x="340.42" y="317.85" width="6.91" height="88.25" fill="#11eeff"/><line x1="343.87" y1="319.35" x2="343.87" y2="406.1" stroke="#f0ffff" stroke-width="0.85" stroke-dasharray="3 5"/><path d="M343.87 313.76V317.85M342.57 313.76H345.17" stroke="#55eeff" stroke-width="0.8" fill="none"/><text x="343.87" y="312.36" font-size="8.0" text-anchor="middle">c</text><rect x="355.97" y="252.33" width="6.91" height="153.77" fill="#fff" stroke="#959595" stroke-width="1"/><path d="M359.43 244.35V260.32M358.13 244.35H360.73M358.13 260.32H360.73" stroke="#707070" stroke-width="0.8" fill="none"/><text x="359.43" y="242.95" font-size="8.0" text-anchor="middle">a</text><rect x="362.88" y="266.67" width="6.91" height="139.43" fill="url(#pR)"/><path d="M366.34 264.82V266.67M365.04 264.82H367.64" stroke="#ff6060" stroke-width="0.8" fill="none"/><text x="366.34" y="263.42" font-size="8.0" text-anchor="middle">b</text><rect x="369.79" y="291.24" width="6.91" height="114.86" fill="url(#pS)"/><path d="M373.25 285.3V291.24M371.95 285.3H374.55" stroke="#55ee55" stroke-width="0.8" fill="none"/><text x="373.25" y="283.9" font-size="8.0" text-anchor="middle">d</text><rect x="376.71" y="277.31" width="6.91" height="128.79" fill="url(#pB)"/><path d="M380.16 273.83V277.31M378.86 273.83H381.46" stroke="#6666ff" stroke-width="0.8" fill="none"/><text x="380.16" y="272.43" font-size="8.0" text-anchor="middle">c</text><rect x="383.62" y="301.68" width="6.91" height="104.42" fill="#11eeff"/><line x1="387.07" y1="303.18" x2="387.07" y2="406.1" stroke="#f0ffff" stroke-width="0.85" stroke-dasharray="3 5"/><path d="M387.07 299.22V301.68M385.77 299.22H388.37" stroke="#55eeff" stroke-width="0.8" fill="none"/><text x="387.07" y="297.82" font-size="8.0" text-anchor="middle">e</text><path d="M179.5 242.3V406.1H395.6" stroke="#333" stroke-width="1.1" fill="none"/><text x="200.45" y="419.6" font-size="12.0" text-anchor="middle">0</text><text x="243.65" y="419.6" font-size="12.0" text-anchor="middle">2</text><text x="286.85" y="419.6" font-size="12.0" text-anchor="middle">4</text><text x="330.05" y="419.6" font-size="12.0" text-anchor="middle">6</text><text x="373.25" y="419.6" font-size="12.0" text-anchor="middle">8</text><rect x="184.6" y="244.4" width="27.4" height="12.8" fill="#fff" stroke="#a8a8a8" stroke-width="1"/><text x="216.1" y="255" font-size="12.4">C</text><rect x="235.1" y="243.9" width="28.4" height="13.8" fill="url(#pR)"/><text x="267.1" y="255" font-size="12.4">CR</text><rect x="184.1" y="259.3" width="28.4" height="13.8" fill="url(#pS)"/><text x="216.1" y="270.4" font-size="12.4">CS</text><rect x="235.1" y="259.3" width="28.4" height="13.8" fill="url(#pB)"/><text x="267.1" y="270.4" font-size="12.4">CB</text><rect x="184.1" y="274.7" width="28.4" height="13.8" fill="#11eeff"/><line x1="186.5" y1="274.7" x2="186.5" y2="288.5" stroke="#e8ffff" stroke-width="0.9" stroke-dasharray="2.5 4.9" stroke-dashoffset="-2"/><line x1="190.25" y1="274.7" x2="190.25" y2="288.5" stroke="#e8ffff" stroke-width="0.9" stroke-dasharray="2.5 4.9" stroke-dashoffset="1.7"/><line x1="194" y1="274.7" x2="194" y2="288.5" stroke="#e8ffff" stroke-width="0.9" stroke-dasharray="2.5 4.9" stroke-dashoffset="-2"/><line x1="197.75" y1="274.7" x2="197.75" y2="288.5" stroke="#e8ffff" stroke-width="0.9" stroke-dasharray="2.5 4.9" stroke-dashoffset="1.7"/><line x1="201.5" y1="274.7" x2="201.5" y2="288.5" stroke="#e8ffff" stroke-width="0.9" stroke-dasharray="2.5 4.9" stroke-dashoffset="-2"/><line x1="205.25" y1="274.7" x2="205.25" y2="288.5" stroke="#e8ffff" stroke-width="0.9" stroke-dasharray="2.5 4.9" stroke-dashoffset="1.7"/><line x1="209" y1="274.7" x2="209" y2="288.5" stroke="#e8ffff" stroke-width="0.9" stroke-dasharray="2.5 4.9" stroke-dashoffset="-2"/><text x="216.1" y="285.8" font-size="12.4">CM</text><text transform="translate(163.1,332) rotate(-90)" font-size="12.9" font-weight="bold" text-anchor="middle">Carbonyl content (mmol/g)</text><text x="291.3" y="435.5" font-size="12.9" font-weight="bold" text-anchor="middle">Storage time (d)</text><text x="262.8" y="458.1" font-size="15.6">(<tspan font-weight="normal" style="stroke-width:0.75px">C</tspan>)</text>
</svg>
</body></html>
